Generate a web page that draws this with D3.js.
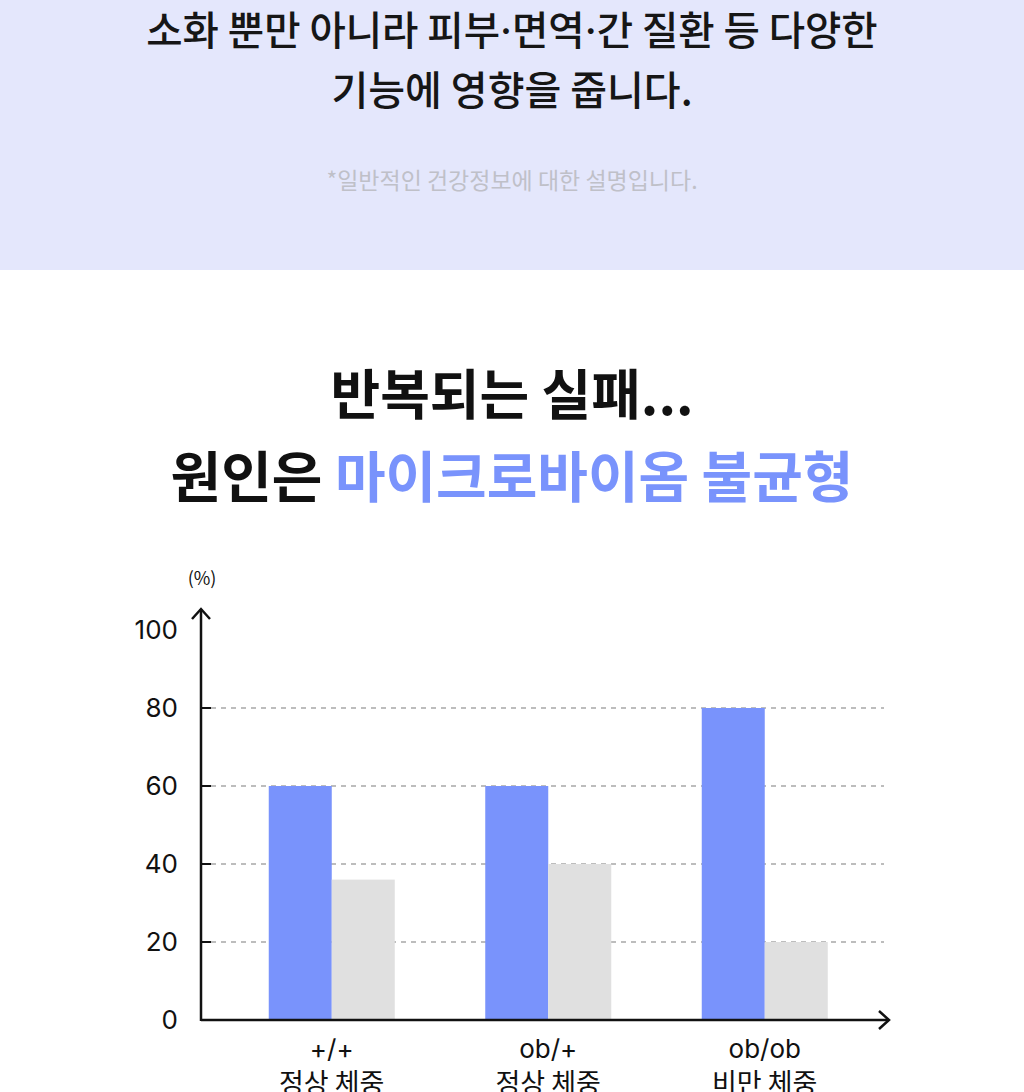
<!DOCTYPE html>
<html>
<head>
<meta charset="utf-8">
<script src="https://cdn.jsdelivr.net/npm/d3@7"></script>
<style>
  html, body { margin: 0; padding: 0; background: #fff; }
  body { width: 1024px; height: 1092px; overflow: hidden; font-family: "Noto Sans CJK KR", "Noto Sans", sans-serif; }
</style>
</head>
<body>
<div id="chart"></div>
<script>
// data
let categories = ["+/+", "ob/+", "ob/ob"];
let subLabels = ["정상 체중", "정상 체중", "비만 체중"];
let series = ["microbiome", "other"];
let blueValues = [60, 60, 80];
let grayValues = [36, 40, 20];
let yTicks = [0, 20, 40, 60, 80, 100];

let width = 1024;
let height = 1092;
let blue = "#7993fc";

let svg = d3.select("#chart")
    .append("svg")
    .attr("width", width)
    .attr("height", height);

// top band
svg.append("rect")
    .attr("width", width)
    .attr("height", 270)
    .attr("fill", "#e4e7fc");

// first line, middle dots set in a narrow latin font
let line1 = svg.append("text")
    .attr("x", 512).attr("y", 45)
    .attr("text-anchor", "middle")
    .attr("font-size", 39.5)
    .attr("font-weight", 500)
    .attr("fill", "#161616");
["소화 뿐만 아니라 피부", "·", "면역", "·", "간 질환 등 다양한"].forEach(s => {
    let t = line1.append("tspan").text(s);
    if (s === "·") t.attr("font-family", "Inter, 'Liberation Sans', sans-serif");
});

svg.append("text")
    .attr("x", 512).attr("y", 105)
    .attr("text-anchor", "middle")
    .attr("font-size", 40)
    .attr("font-weight", 500)
    .attr("fill", "#161616")
    .text("기능에 영향을 줍니다.");

svg.append("text")
    .attr("x", 512).attr("y", 189)
    .attr("text-anchor", "middle")
    .attr("font-size", 23)
    .attr("fill", "#bfc0c8")
    .text("*일반적인 건강정보에 대한 설명입니다.");

// title
svg.append("text")
    .attr("x", 512).attr("y", 415)
    .attr("text-anchor", "middle")
    .attr("font-size", 54)
    .attr("font-weight", 700)
    .attr("fill", "#111")
    .text("반복되는 실패...");

let title2 = svg.append("text")
    .attr("x", 512).attr("y", 497)
    .attr("text-anchor", "middle")
    .attr("font-size", 55)
    .attr("font-weight", 700)
    .attr("fill", "#111");
title2.append("tspan").text("원인은 ");
title2.append("tspan").attr("fill", blue).text("마이크로바이옴 불균형");

// scales
let x0 = 201, yBase = 1020;
let xScale = d3.scaleBand().domain(categories).range([223.5, 873]).padding(0);
let yScale = d3.scaleLinear().domain([0, 100]).range([yBase, 630]);
let barW = 63;
let xSub = d3.scaleBand().domain(series).range([-barW, barW]).padding(0);

// grid
svg.append("g")
    .selectAll("line")
    .data(yTicks.filter(d => d > 0 && d < 100))
    .join("line")
    .attr("x1", x0 + 10)
    .attr("x2", 884)
    .attr("y1", d => yScale(d))
    .attr("y2", d => yScale(d))
    .attr("stroke", "#bdbdbd")
    .attr("stroke-width", 2)
    .attr("stroke-dasharray", "5,5");

// bars
let groups = svg.append("g")
    .selectAll("g")
    .data(categories.map((c, i) => ({ c: c, vals: [blueValues[i], grayValues[i]] })))
    .join("g")
    .attr("transform", d => "translate(" + (xScale(d.c) + xScale.bandwidth() / 2) + ",0)");

groups.selectAll("rect")
    .data(d => d.vals.map((v, j) => ({ s: series[j], v: v })))
    .join("rect")
    .attr("x", d => xSub(d.s))
    .attr("width", xSub.bandwidth())
    .attr("y", d => yScale(d.v))
    .attr("height", d => yBase - yScale(d.v))
    .attr("fill", d => d.s === "microbiome" ? blue : "#e0e0e0");

// y axis
let yAxis = svg.append("g")
    .attr("transform", "translate(" + x0 + ",0)")
    .call(d3.axisLeft(yScale).tickValues(yTicks).tickSize(0).tickPadding(23));
yAxis.select(".domain").remove();
yAxis.selectAll("text")
    .attr("font-size", 26)
    .attr("font-family", "Inter, 'Noto Sans CJK KR', sans-serif")
    .attr("fill", "#111");

// small ticks at grid values
svg.append("g")
    .selectAll("line")
    .data(yTicks.filter(d => d > 0 && d < 100))
    .join("line")
    .attr("x1", x0).attr("x2", x0 + 10)
    .attr("y1", d => yScale(d)).attr("y2", d => yScale(d))
    .attr("stroke", "#111").attr("stroke-width", 2);

// axis lines with arrows
svg.append("line")
    .attr("x1", x0).attr("x2", x0)
    .attr("y1", yBase + 1).attr("y2", 609)
    .attr("stroke", "#111").attr("stroke-width", 2.5);
svg.append("path")
    .attr("d", "M" + (x0 - 9) + ",619 L" + x0 + ",609 L" + (x0 + 9) + ",619")
    .attr("fill", "none").attr("stroke", "#111").attr("stroke-width", 2.5);

svg.append("line")
    .attr("x1", x0).attr("x2", 889)
    .attr("y1", yBase).attr("y2", yBase)
    .attr("stroke", "#111").attr("stroke-width", 2.5);
svg.append("path")
    .attr("d", "M879," + (yBase - 9) + " L889," + yBase + " L879," + (yBase + 9))
    .attr("fill", "none").attr("stroke", "#111").attr("stroke-width", 2.5);

svg.append("text")
    .attr("x", 202).attr("y", 585)
    .attr("text-anchor", "middle")
    .attr("font-size", 18)
    .attr("fill", "#111")
    .text("(%)");

// category labels, two lines each
svg.append("g")
    .selectAll("text")
    .data(categories)
    .join("text")
    .attr("x", d => xScale(d) + xScale.bandwidth() / 2)
    .attr("y", 1058)
    .attr("text-anchor", "middle")
    .attr("font-size", 26)
    .attr("font-family", "Inter, 'Noto Sans CJK KR', sans-serif")
    .attr("fill", "#111")
    .text(d => d);

svg.append("g")
    .selectAll("text")
    .data(subLabels)
    .join("text")
    .attr("x", (d, i) => xScale(categories[i]) + xScale.bandwidth() / 2)
    .attr("y", 1093)
    .attr("text-anchor", "middle")
    .attr("font-size", 27)
    .attr("fill", "#111")
    .text(d => d);
</script>
</body>
</html>
